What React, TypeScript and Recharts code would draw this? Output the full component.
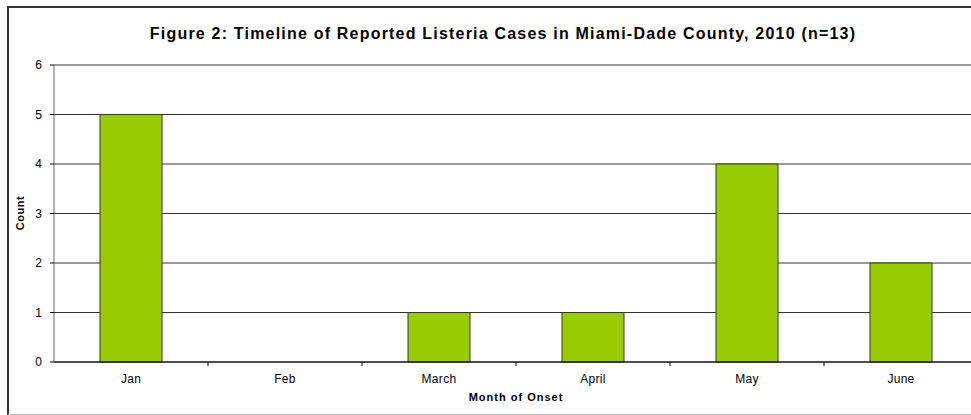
import React from 'react';
import { BarChart, Bar, XAxis, YAxis, CartesianGrid } from 'recharts';

const months = ['Jan', 'Feb', 'March', 'April', 'May', 'June'];
const counts = [5, 0, 1, 1, 4, 2];
const yTicks = [0, 1, 2, 3, 4, 5, 6];

const data = months.map((month, i) => ({ month, count: counts[i] }));

const W = 971;
const H = 415;
// the plot runs a little past the right edge of the picture
const chartW = 979;
const plotLeft = 54;
const plotRight = 978;
const halfBand = (plotRight - plotLeft) / months.length / 2;

const font = 'Liberation Sans, Arial, sans-serif';

function MonthTick(props: any) {
  const { x, y, payload, index } = props;
  return (
    <g>
      {index < months.length - 1 && (
        <line x1={x + halfBand} x2={x + halfBand} y1={y - 8} y2={y - 4} stroke="#000" />
      )}
      <text
        x={x}
        y={y + 13}
        textAnchor="middle"
        fontSize={12}
        letterSpacing={0.3}
        fill="#000"
        fontFamily={font}
      >
        {payload.value}
      </text>
    </g>
  );
}

export default function App() {
  return (
    <div
      style={{
        position: 'absolute',
        left: 0,
        top: 0,
        width: W,
        height: H,
        overflow: 'hidden',
        background: '#fff',
        fontFamily: font,
      }}
    >
      <div
        style={{
          position: 'absolute',
          left: 7,
          top: 6,
          width: W,
          height: 406,
          borderLeft: '2px solid #333',
          borderTop: '2px solid #333',
          borderBottom: '1px solid #bbb',
        }}
      />
      <div
        style={{
          position: 'absolute',
          left: 0,
          width: 1006,
          top: 25,
          textAlign: 'center',
          fontWeight: 'bold',
          fontSize: 16,
          letterSpacing: 1.2,
          whiteSpace: 'nowrap',
        }}
      >
        Figure 2: Timeline of Reported Listeria Cases in Miami-Dade County, 2010 (n=13)
      </div>
      <div
        style={{
          position: 'absolute',
          left: 20,
          top: 213,
          transform: 'translate(-50%, -50%) rotate(-90deg)',
          fontWeight: 'bold',
          fontSize: 11,
          letterSpacing: 0.5,
        }}
      >
        Count
      </div>
      <div
        style={{
          position: 'absolute',
          left: plotLeft,
          width: plotRight - plotLeft,
          top: 391,
          textAlign: 'center',
          fontWeight: 'bold',
          fontSize: 11,
          letterSpacing: 1,
        }}
      >
        Month of Onset
      </div>
      <div style={{ position: 'absolute', left: 0, top: 0 }}>
        <BarChart
          width={chartW}
          height={H}
          data={data}
          margin={{ top: 65, right: chartW - plotRight, bottom: 23, left: 0 }}
          barCategoryGap={0}
        >
          <CartesianGrid vertical={false} horizontal stroke="#333" strokeWidth={1} />
          <XAxis
            dataKey="month"
            height={30}
            axisLine={{ stroke: '#000' }}
            tickLine={false}
            interval={0}
            tick={<MonthTick />}
          />
          <YAxis
            width={plotLeft}
            domain={[0, 6]}
            ticks={yTicks}
            interval={0}
            axisLine={{ stroke: '#666' }}
            tickLine={{ stroke: '#000' }}
            tickSize={4}
            tickMargin={8}
            tick={{ fontSize: 12, fill: '#000', fontFamily: font }}
          />
          <Bar
            dataKey="count"
            fill="#99CC00"
            stroke="#333"
            strokeWidth={1}
            barSize={62}
            isAnimationActive={false}
          />
        </BarChart>
      </div>
    </div>
  );
}
